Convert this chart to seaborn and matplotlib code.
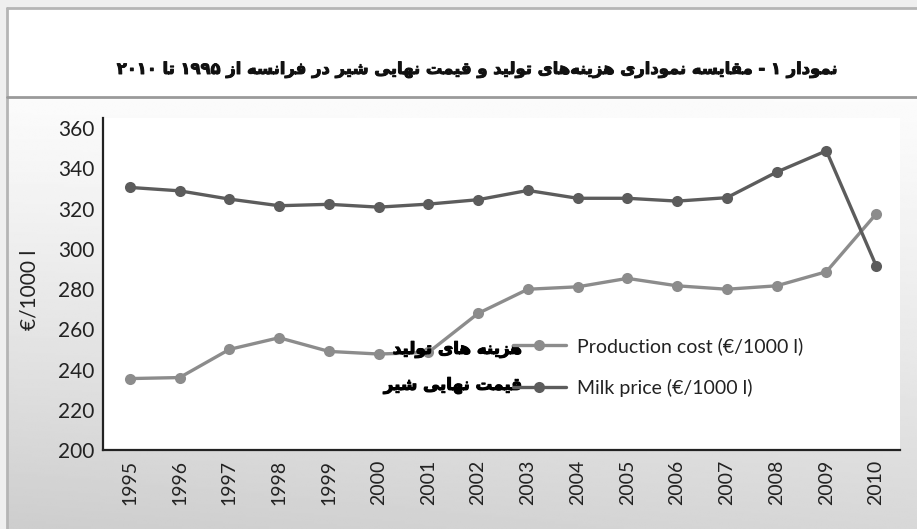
import re
import numpy as np
import pandas as pd
import matplotlib.pyplot as plt
import matplotlib.patheffects as pe
import seaborn as sns
from matplotlib.lines import Line2D

years = [1995, 1996, 1997, 1998, 1999, 2000, 2001, 2002,
         2003, 2004, 2005, 2006, 2007, 2008, 2009, 2010]
production_cost = [235.5, 236, 250, 255.8, 249, 247.7, 248.5, 267.9,
                   279.9, 281.1, 285.3, 281.6, 279.9, 281.6, 288.6, 317.3]
milk_price = [330.5, 328.8, 324.7, 321.4, 322.1, 320.7, 322.2, 324.4,
              329.0, 325.1, 325.1, 323.7, 325.4, 338.1, 348.7, 291.6]
series_names = ["Production cost (€/1000 l)", "Milk price (€/1000 l)"]
series_fa = ["هزینه های تولید", "قیمت نهایی شیر"]
title_fa = "نمودار ۱ - مقایسه نموداری هزینه‌های تولید و قیمت نهایی شیر در فرانسه از ۱۹۹۵ تا ۲۰۱۰"
y_ticks = [200, 220, 240, 260, 280, 300, 320, 340, 360]
y_label = "€/1000 l"

COL_PROD = "#8c8c8c"
COL_MILK = "#5c5c5c"

# matplotlib has no arabic shaping, so pick presentation forms by hand
FORMS = {
    "ا": ("\uFE8D", "\uFE8E", None, None),
    "د": ("\uFEA9", "\uFEAA", None, None),
    "ر": ("\uFEAD", "\uFEAE", None, None),
    "ز": ("\uFEAF", "\uFEB0", None, None),
    "و": ("\uFEED", "\uFEEE", None, None),
    "ت": ("\uFE95", "\uFE96", "\uFE97", "\uFE98"),
    "س": ("\uFEB1", "\uFEB2", "\uFEB3", "\uFEB4"),
    "ش": ("\uFEB5", "\uFEB6", "\uFEB7", "\uFEB8"),
    "ف": ("\uFED1", "\uFED2", "\uFED3", "\uFED4"),
    "ق": ("\uFED5", "\uFED6", "\uFED7", "\uFED8"),
    "ل": ("\uFEDD", "\uFEDE", "\uFEDF", "\uFEE0"),
    "م": ("\uFEE1", "\uFEE2", "\uFEE3", "\uFEE4"),
    "ن": ("\uFEE5", "\uFEE6", "\uFEE7", "\uFEE8"),
    "ه": ("\uFEE9", "\uFEEA", "\uFEEB", "\uFEEC"),
    "ی": ("\uFEEF", "\uFEF0", "\uFEF3", "\uFEF4"),
}


def fa(text):
    out = []
    for i, c in enumerate(text):
        if c == "\u200c":
            continue
        if c not in FORMS:
            out.append(c)
            continue
        prev = text[i - 1] if i > 0 else ""
        nxt = text[i + 1] if i + 1 < len(text) else ""
        cp = prev in FORMS and FORMS[prev][2] is not None
        cn = FORMS[c][2] is not None and nxt in FORMS
        iso, fin, ini, med = FORMS[c]
        if cp and cn:
            out.append(med)
        elif cp:
            out.append(fin)
        elif cn:
            out.append(ini)
        else:
            out.append(iso)
    vis = "".join(reversed(out))
    return re.sub(r"[۰-۹0-9]+", lambda m: m.group(0)[::-1], vis)


sns.set_theme(style="white")
plt.rcParams["font.family"] = ["Lato", "DejaVu Sans"]

W, H = 917, 529
fig = plt.figure(figsize=(W / 100, H / 100), dpi=100)
fig.patch.set_facecolor("#efefef")

# background: white header band and grey gradient below it
bg = fig.add_axes([0, 0, 1, 1], zorder=-10)
bg.axis("off")
gy = np.linspace(0, 1, 200)[:, None]
gx = np.linspace(0, 1, 200)[None, :]
grad = 0.985 - 0.14 * gy ** 1.2 - 0.04 * (1 - gx) * gy
bg.imshow(grad, cmap="gray", vmin=0, vmax=1, extent=(7, W, H, 97),
          aspect="auto", interpolation="bilinear")
bg.add_patch(plt.Rectangle((7, 8), W - 7, 89, facecolor="white", edgecolor="none"))
bg.plot([7, W], [8, 8], color="#b5b5b5", lw=2)
bg.plot([7, 7], [8, H], color="#b5b5b5", lw=2)
bg.plot([7, W], [97, 97], color="#9a9a9a", lw=2)
bg.set_xlim(0, W)
bg.set_ylim(H, 0)

bold_fx = [pe.withStroke(linewidth=0.7, foreground="#111111")]
fig.text(478 / W, 1 - 70 / H, fa(title_fa), ha="center", va="center",
         fontsize=11.8, fontweight="bold", family="DejaVu Sans", color="#111111",
         path_effects=bold_fx)

ax = fig.add_axes([103 / W, 1 - 450 / H, 797 / W, 332 / H])
ax.set_facecolor("white")

df = pd.DataFrame({
    "year": years * 2,
    "value": production_cost + milk_price,
    "series": [series_names[0]] * len(years) + [series_names[1]] * len(years),
})
sns.lineplot(data=df, x="year", y="value", hue="series",
             palette=[COL_PROD, COL_MILK], marker="o", markersize=8,
             markeredgewidth=0, linewidth=2.4, legend=False, ax=ax)

ax.set_xlim(1994.46, 2010.48)
ax.set_ylim(200, 365)
ax.set_xticks(years)
ax.set_xticklabels([str(y) for y in years], rotation=90, fontsize=14, color="#222222")
ax.set_yticks(y_ticks)
ax.set_yticklabels([str(v) for v in y_ticks], fontsize=15, color="#222222")
ax.tick_params(axis="both", length=0)
ax.tick_params(axis="x", pad=7)
ax.tick_params(axis="y", pad=6)
ax.set_xlabel("")
ax.set_ylabel("")
for side in ["top", "right"]:
    ax.spines[side].set_visible(False)
for side in ["left", "bottom"]:
    ax.spines[side].set_color("#222222")
    ax.spines[side].set_linewidth(1.6)

fig.text(30 / W, 1 - 290 / H, y_label, rotation=90, ha="center", va="center",
         fontsize=15, color="#222222")

handles = [
    Line2D([], [], color=COL_PROD, lw=2.4, marker="o", markersize=8, markeredgewidth=0),
    Line2D([], [], color=COL_MILK, lw=2.4, marker="o", markersize=8, markeredgewidth=0),
]
fig.legend(handles, series_names, loc="center left",
           bbox_to_anchor=(513 / W, 1 - 367 / H), frameon=False, fontsize=14,
           handlelength=2.7, handletextpad=0.6, labelspacing=1.25,
           borderpad=0, borderaxespad=0, numpoints=1, labelcolor="#222222")

leg_fx = [pe.withStroke(linewidth=0.8, foreground="black")]
fig.text(522 / W, 1 - 349 / H, fa(series_fa[0]), ha="right", va="center",
         fontsize=12, fontweight="bold", family="DejaVu Sans", color="black",
         zorder=5, path_effects=leg_fx)
fig.text(522 / W, 1 - 385 / H, fa(series_fa[1]), ha="right", va="center",
         fontsize=12, fontweight="bold", family="DejaVu Sans", color="black",
         zorder=5, path_effects=leg_fx)

fig.savefig("out.png", dpi=100)
